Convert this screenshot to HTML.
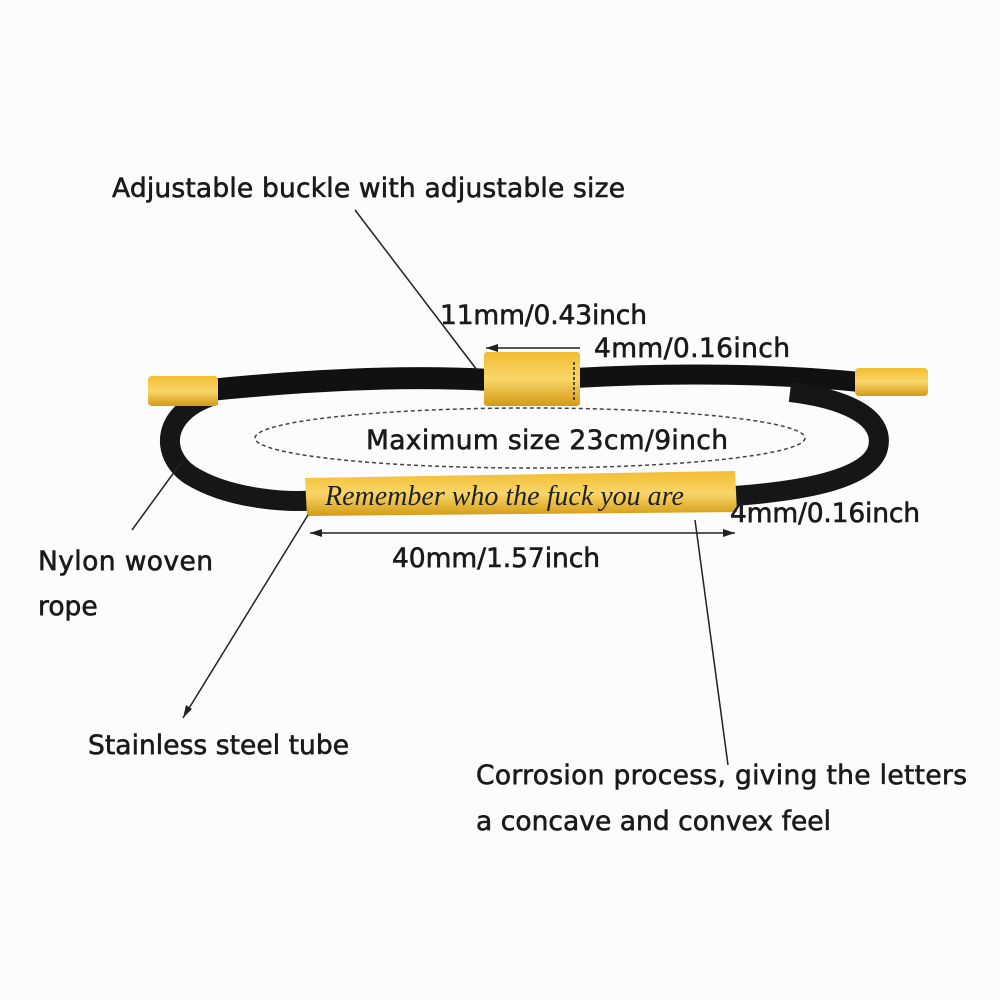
<!DOCTYPE html>
<html><head><style>
body{margin:0;background:#fcfcfc;}
svg{display:block}
text{font-family:"DejaVu Sans",sans-serif;font-size:26.5px;fill:#1a1a1a;stroke:#1a1a1a;stroke-width:0.6;}
</style></head><body>
<svg width="1000" height="1000" viewBox="0 0 1000 1000">
<rect width="1000" height="1000" fill="#fcfcfc"/>
<defs>
<linearGradient id="g" x1="0" y1="0" x2="0" y2="1">
<stop offset="0" stop-color="#f3bd30"/><stop offset="0.5" stop-color="#f8d66a"/><stop offset="1" stop-color="#d49a14"/></linearGradient>
</defs>
<path d="M210,390 C330,378 420,376 490,380" stroke="#111" stroke-width="22" fill="none"/>
<path d="M575,378 C680,372 780,374 860,382" stroke="#111" stroke-width="20" fill="none"/>
<path d="M215,395 C160,412 160,455 190,475 C230,500 290,503 320,500" stroke="#161616" stroke-width="20" fill="none"/>
<path d="M720,497 C800,492 870,480 878,448 C886,415 840,398 790,392" stroke="#161616" stroke-width="20" fill="none"/>
<rect x="148" y="376" width="70" height="30" rx="4" fill="url(#g)"/>
<rect x="855" y="368" width="73" height="28" rx="4" fill="url(#g)"/>
<rect x="484" y="352" width="96" height="54" rx="3" fill="url(#g)"/>
<line x1="574" y1="362" x2="574" y2="400" stroke="#222" stroke-width="1.5" stroke-dasharray="3,2"/>
<polygon points="305,478 735,471 737,512 307,516" fill="url(#g)"/>
<text x="325" y="505" style="font-family:'Liberation Serif',serif;font-style:italic;font-size:28px;fill:#222;stroke:none">Remember who the fuck you are</text>
<ellipse cx="530" cy="438" rx="275" ry="30" fill="none" stroke="#444" stroke-width="1.5" stroke-dasharray="4,3"/>
<g stroke="#222" stroke-width="1.5" fill="none">
<line x1="355" y1="210" x2="477" y2="370"/>
<line x1="486" y1="348" x2="580" y2="348"/>
<line x1="310" y1="533" x2="735" y2="533"/>
<line x1="183" y1="460" x2="132" y2="530"/>
<line x1="308" y1="515" x2="183" y2="718"/>
<line x1="695" y1="520" x2="728" y2="765"/>
</g>
<g fill="#222">
<polygon points="310,533 322,529 322,537"/><polygon points="735,533 723,529 723,537"/>
<polygon points="486,348 498,344 498,352"/>
<polygon points="183,718 186,705 192,709"/>
</g>
<text x="112" y="197" textLength="513">Adjustable buckle with adjustable size</text>
<text x="440" y="324" textLength="207">11mm/0.43inch</text>
<text x="594" y="357" textLength="196">4mm/0.16inch</text>
<text x="366" y="449" textLength="362">Maximum size 23cm/9inch</text>
<text x="730" y="522" textLength="190">4mm/0.16inch</text>
<text x="392" y="567" textLength="208">40mm/1.57inch</text>
<text x="38" y="570" textLength="175">Nylon woven</text>
<text x="38" y="615">rope</text>
<text x="88" y="754" textLength="261">Stainless steel tube</text>
<text x="476" y="784" textLength="491">Corrosion process, giving the letters</text>
<text x="476" y="830" textLength="355">a concave and convex feel</text>
</svg>
</body></html>
